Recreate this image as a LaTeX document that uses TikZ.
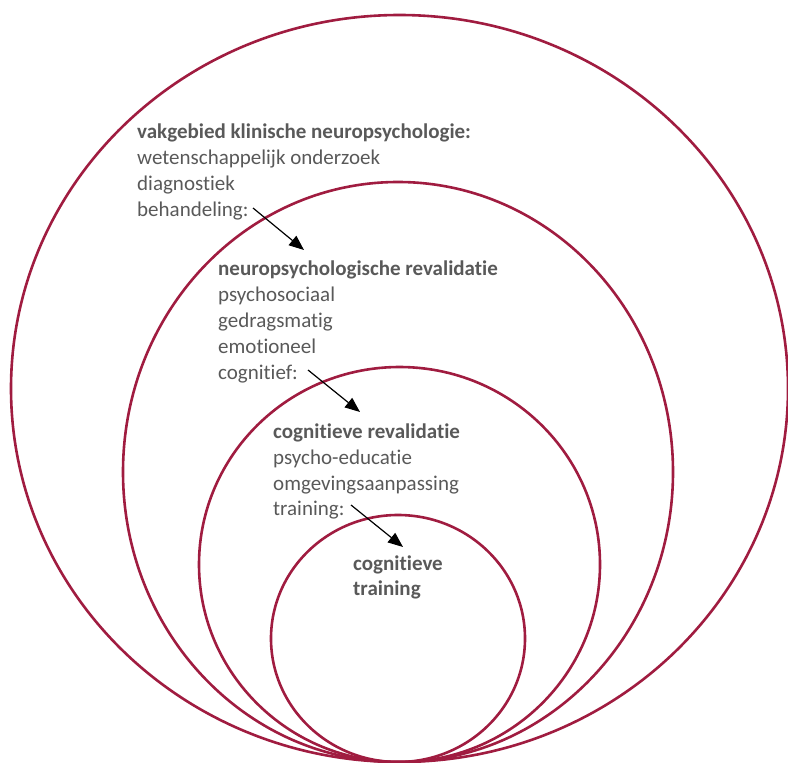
\documentclass[tikz,border=0pt]{standalone}
\usepackage{fontspec}
\setmainfont{Carlito}[Ligatures={NoCommon}]
\usetikzlibrary{arrows.meta}
\definecolor{ring}{RGB}{160,28,64}
\definecolor{txt}{RGB}{89,89,89}
\tikzset{
  ringline/.style={draw=ring, line width=2.6bp},
  lbl/.style={anchor=base west, inner sep=0pt, text=txt, font=\fontsize{21bp}{26bp}\selectfont},
  hdr/.style={lbl, font=\fontsize{21bp}{26bp}\selectfont\bfseries},
  pointer/.style={draw=black, line width=1.2bp, -{Triangle[length=15bp,width=12bp]}}
}
\begin{document}
\begin{tikzpicture}[x=1bp,y=-1bp]
\useasboundingbox (0,0) rectangle (788,763);
% rings
\draw[ringline] (399.5,388.5) ellipse [x radius=388.5, y radius=373.5];
\draw[ringline] (398,472) ellipse [x radius=275, y radius=290];
\draw[ringline] (399.5,564.5) ellipse [x radius=200.5, y radius=197.5];
\draw[ringline] (398,638.5) ellipse [x radius=127, y radius=123.5];
% group 1
\node[hdr] (g1a) at (137,138) {vakgebied klinische neuropsychologie:};
\node[lbl] (g1b) at (137,164) {wetenschappelijk onderzoek};
\node[lbl] (g1c) at (137,190) {diagnostiek};
\node[lbl] (g1d) at (137,216) {behandeling:};
% group 2
\node[hdr] (g2a) at (218,275) {neuropsychologische revalidatie};
\node[lbl] (g2b) at (218,301) {psychosociaal};
\node[lbl] (g2c) at (218,327) {gedragsmatig};
\node[lbl] (g2d) at (218,353) {emotioneel};
\node[lbl] (g2e) at (218,379) {cognitief:};
% group 3
\node[hdr] (g3a) at (273,438) {cognitieve revalidatie};
\node[lbl] (g3b) at (273,464) {psycho-educatie};
\node[lbl] (g3c) at (273,490) {omgevingsaanpassing};
\node[lbl] (g3d) at (273,515) {training:};
% group 4
\node[hdr] (g4a) at (353,570) {cognitieve};
\node[hdr] (g4b) at (353,595) {training};
% arrows
\coordinate (a1s) at (253,208);
\coordinate (a1e) at (304,250);
\coordinate (a2s) at (308,370);
\coordinate (a2e) at (360,412);
\coordinate (a3s) at (351,505);
\coordinate (a3e) at (403,547);
\draw[pointer] (a1s) -- (a1e);
\draw[pointer] (a2s) -- (a2e);
\draw[pointer] (a3s) -- (a3e);
\end{tikzpicture}
\end{document}
